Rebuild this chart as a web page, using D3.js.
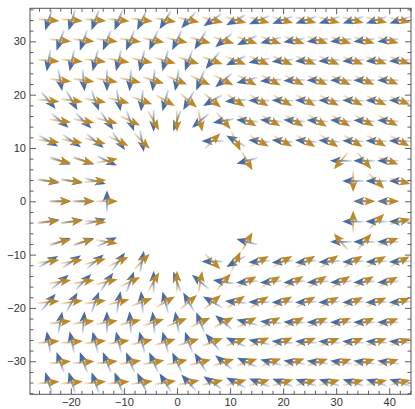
<!DOCTYPE html>
<html><head><meta charset="utf-8">
<script src="https://cdn.jsdelivr.net/npm/d3@7"></script>
<style>body{margin:0;background:#fff}svg{display:block}</style>
</head><body>
<svg id="c" width="415" height="409"></svg>
<script>
// grid rows (y) and columns (x) of the staggered vector grid
const rowY = [34, 30.2, 26.4, 22.7, 18.9, 15.1, 11.3, 7.6, 3.8, 0, -3.8, -7.6, -11.3, -15.1, -18.9, -22.7, -26.4, -30.2, -34];
const colXEven = [-24.2, -19.8, -15.4, -11.0, -6.6, -2.2, 2.2, 6.7, 11.1, 15.5, 19.9, 24.3, 28.7, 33.2, 37.6, 42.0];
const colXOdd = [-22.0, -17.6, -13.2, -8.8, -4.4, 0.0, 4.4, 8.8, 13.2, 17.7, 22.1, 26.5, 30.9, 35.3, 39.8];
const N = null;
// orange field directions (degrees, counter-clockwise from +x)
const orangeDeg = [
 [-5,-5,-5,-6,-8,-10,-12,-14,-15,-16,-16,-16,-15,-15,-14,-13],
 [-6,-6,-7,-9,-11,-13,-15,-17,-19,-20,-20,-19,-18,-17,-16],
 [-5,-6,-8,-10,-13,-16,-18,-20,-22,-24,-24,-23,-22,-21,-20,-19],
 [-7,-8,-10,-13,-17,-22,-25,-27,-28,-28,-27,-26,-25,-24,-22],
 [-6,-8,-10,-14,-20,-30,-40,-40,-35,-32,-30,-30,-29,-27,-25,-23],
 [-8,-10,-14,-25,-60,-90,-80,-50,-30,-30,-32,-33,-32,-30,-28],
 [-8,-10,-15,-25,-45,N,N,45,-65,-30,-30,-32,-35,-32,-30,-28],
 [-12,-15,10,N,N,N,N,N,-60,N,N,N,-130,-50,-20],
 [-5,-5,5,N,N,N,N,N,N,N,N,N,N,-90,-45,-15],
 [0,0,0,N,N,N,N,N,N,N,N,N,N,0,0],
 [5,5,-5,N,N,N,N,N,N,N,N,N,N,90,45,15],
 [12,15,-10,N,N,N,N,N,60,N,N,N,130,50,20],
 [8,10,15,25,45,N,N,-45,65,30,30,32,35,32,30,28],
 [8,10,14,25,60,90,80,50,30,30,32,33,32,30,28],
 [6,8,10,14,20,30,40,40,35,32,30,30,29,27,25,23],
 [7,8,10,13,17,22,25,27,28,28,27,26,25,24,22],
 [5,6,8,10,13,16,18,20,22,24,24,23,22,21,20,19],
 [6,6,7,9,11,13,15,17,19,20,20,19,18,17,16],
 [5,5,5,6,8,10,12,14,15,16,16,16,15,15,14,13]
];
// blue field directions (degrees)
const blueDeg = [
 [-108,-108,-110,-112,-116,-122,-132,-145,-152,-158,-160,-162,-162,-162,-162,-162],
 [-110,-110,-112,-113,-114,-116,-122,-140,-155,-165,-170,-172,-172,-172,-172],
 [-100,-102,-104,-104,-104,-105,-110,-130,-155,-168,-174,-176,-176,-176,-176,-176],
 [-80,-85,-90,-94,-96,-100,-112,-140,-165,-175,-178,-180,-180,-180,-180],
 [-50,-60,-70,-80,-95,-105,-120,-150,-175,180,178,178,178,178,178,178],
 [-40,-45,-55,-70,-90,-110,-140,-170,175,175,175,176,176,177,177],
 [-30,-35,-40,-55,-80,N,N,180,150,175,174,174,176,178,178,178],
 [-20,-20,-25,N,N,N,N,N,-165,N,N,N,180,180,180],
 [-10,-10,-15,N,N,N,N,N,N,N,N,N,N,180,180,180],
 [0,0,90,N,N,N,N,N,N,N,N,N,N,180,180],
 [10,10,15,N,N,N,N,N,N,N,N,N,N,180,180,180],
 [20,20,25,N,N,N,N,N,165,N,N,N,180,180,180],
 [30,35,40,55,80,N,N,180,-150,-175,-174,-174,-176,-178,-178,-178],
 [40,45,55,70,90,110,140,170,-175,-175,-175,-176,-176,-177,-177],
 [50,60,70,80,95,105,120,150,175,180,-178,-178,-178,-178,-178,-178],
 [80,85,90,94,96,100,112,140,165,175,178,180,180,180,180],
 [100,102,104,104,104,105,110,130,155,168,174,176,176,176,176,176],
 [110,110,112,113,114,116,122,140,155,165,170,172,172,172,172],
 [108,108,110,112,116,122,132,145,152,158,160,162,162,162,162,162]
];
const xTicks = [-20, -10, 0, 10, 20, 30, 40];
const yTicks = [-30, -20, -10, 0, 10, 20, 30];

const svg = d3.select('#c');
const x = d3.scaleLinear().domain([-27.7, 44.1]).range([30, 411]);
const y = d3.scaleLinear().domain([-36.2, 36.2]).range([394.3, 8.3]);

const BLUE = '#4a6ca6', ORANGE = '#bd882a';
const L = 22, HL = 11, HW = 4.3, NOTCH = 2.6;
const defs = svg.append('defs');
function grad(id, col) {
  const g = defs.append('linearGradient').attr('id', id)
    .attr('gradientUnits', 'userSpaceOnUse').attr('x1', -L/2).attr('x2', L/2 - HL).attr('y1', 0).attr('y2', 0);
  g.append('stop').attr('offset', 0).attr('stop-color', col).attr('stop-opacity', 0.15);
  g.append('stop').attr('offset', 1).attr('stop-color', col).attr('stop-opacity', 0.85);
}
grad('gb', BLUE); grad('go', ORANGE);

function points(angles) {
  const pts = [];
  angles.forEach((row, k) => {
    const xs = row.length === 16 ? colXEven : colXOdd;
    row.forEach((a, j) => { if (a !== null) pts.push({x: xs[j], y: rowY[k], a}); });
  });
  return pts;
}
function drawField(angles, col, gid) {
  const g = svg.append('g');
  const arr = g.selectAll('g').data(points(angles)).join('g')
    .attr('transform', d => `translate(${x(d.x)},${y(d.y)}) rotate(${-d.a})`);
  arr.append('rect').attr('x', -L/2).attr('y', -0.9).attr('width', L - HL + NOTCH).attr('height', 1.8)
    .attr('fill', `url(#${gid})`);
  arr.append('path')
    .attr('d', `M${L/2},0 L${L/2-HL},${-HW} L${L/2-HL+NOTCH},0 L${L/2-HL},${HW} Z`)
    .attr('fill', col);
}
drawField(blueDeg, BLUE, 'gb');
drawField(orangeDeg, ORANGE, 'go');

// frame + ticks
const minorX = d3.range(-26, 45, 2).filter(v => v % 10 !== 0);
const minorY = d3.range(-36, 37, 2).filter(v => v % 10 !== 0);
function ax(axisFn, scale, vals, size, tr, labels) {
  const a = axisFn(scale).tickValues(vals).tickSizeInner(-size).tickSizeOuter(0).tickPadding(4);
  if (!labels) a.tickFormat('');
  else a.tickFormat(d => d < 0 ? '\u2212' + Math.abs(d) : d);
  const g = svg.append('g').attr('transform', tr).call(a);
  g.select('.domain').remove();
  g.selectAll('line').attr('stroke', '#333').attr('stroke-width', 0.8);
  g.selectAll('text').attr('fill', '#333').style('font-family', 'Liberation Sans, Arial, sans-serif').style('font-size', '11px');
  return g;
}
ax(d3.axisBottom, x, xTicks, 6, 'translate(0,394.3)', true);
ax(d3.axisBottom, x, minorX, 3.5, 'translate(0,394.3)', false);
ax(d3.axisTop, x, xTicks, 6, 'translate(0,8.3)', false);
ax(d3.axisTop, x, minorX, 3.5, 'translate(0,8.3)', false);
ax(d3.axisLeft, y, yTicks, 6, 'translate(30,0)', true);
ax(d3.axisLeft, y, minorY, 3.5, 'translate(30,0)', false);
ax(d3.axisRight, y, yTicks, 6, 'translate(411,0)', false);
ax(d3.axisRight, y, minorY, 3.5, 'translate(411,0)', false);
svg.append('rect').attr('x', 30).attr('y', 8.3).attr('width', 381).attr('height', 386)
  .attr('fill', 'none').attr('stroke', '#555').attr('stroke-width', 1);
</script>
</body></html>
